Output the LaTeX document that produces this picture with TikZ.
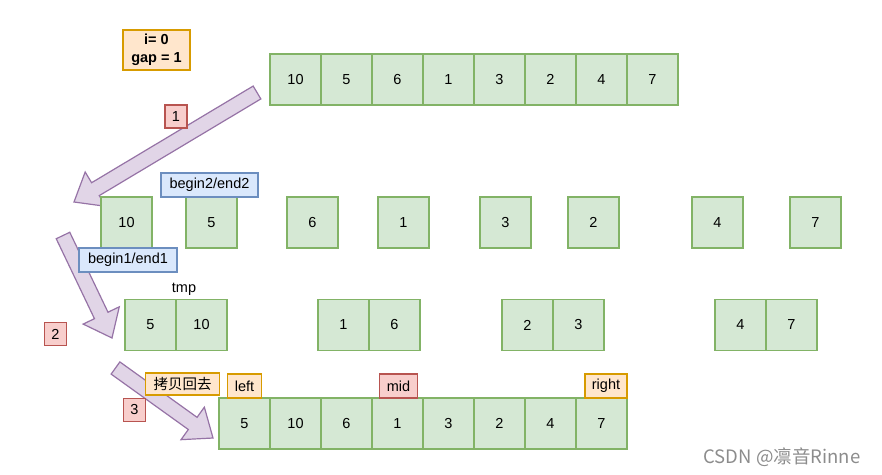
\documentclass[tikz,border=0pt]{standalone}
\usepackage{fontspec}
\setmainfont{Liberation Sans}
\newfontfamily\cjkfont{Noto Sans CJK SC}
\usepackage{xcolor}
\usepackage{tikz}
\usetikzlibrary{positioning, calc}

\definecolor{cellfill}{HTML}{D5E8D4}
\definecolor{cellline}{HTML}{82B366}
\definecolor{orfill}{HTML}{FFE6CC}
\definecolor{orline}{HTML}{D79B00}
\definecolor{blfill}{HTML}{DAE8FC}
\definecolor{blline}{HTML}{6C8EBF}
\definecolor{rdfill}{HTML}{F8CECC}
\definecolor{rdline}{HTML}{B85450}
\definecolor{arfill}{HTML}{E1D5E7}
\definecolor{arline}{HTML}{9673A6}
\definecolor{markgray}{HTML}{8C8C8C}

% block arrow from #1 (tail) to #2 (tip)
\newcommand{\fatarrow}[2]{%
  \draw[fatarrow] ($(#1)!7.5pt!90:(#2)$)
    -- ($(#2)!25pt!(#1)!7.5pt!-90:(#1)$)
    -- ($(#2)!25pt!(#1)!20pt!-90:(#1)$)
    -- (#2)
    -- ($(#2)!25pt!(#1)!20pt!90:(#1)$)
    -- ($(#2)!25pt!(#1)!7.5pt!90:(#1)$)
    -- ($(#1)!7.5pt!-90:(#2)$) -- cycle;}

\begin{document}
\begin{tikzpicture}[
    x=1pt, y=-1pt,
    every node/.style={font=\fontsize{14.5}{16}\selectfont},
    cell/.style={rectangle, draw=cellline, fill=cellfill, line width=1.3pt, minimum width=51pt, minimum height=51pt, inner sep=0pt, outer sep=0pt},
    tag/.style={rectangle, line width=1.3pt, minimum height=24pt, inner sep=0pt, outer sep=0pt},
    ortag/.style={tag, draw=orline, fill=orfill},
    bltag/.style={tag, draw=blline, fill=blfill},
    rdtag/.style={tag, draw=rdline, fill=rdfill, minimum width=22pt, minimum height=23pt},
    fatarrow/.style={draw=arline, fill=arfill, line width=1.2pt, line join=miter}
]
\useasboundingbox (0,0) rectangle (882,474);

\coordinate (a1s) at (257,92.5);
\coordinate (a1e) at (74,202);
\coordinate (a2s) at (63,235.5);
\coordinate (a2e) at (112,338);
\coordinate (a3s) at (115.5,368);
\coordinate (a3e) at (213,438);
\fatarrow{a1s}{a1e}
\fatarrow{a2s}{a2e}
\fatarrow{a3s}{a3e}

% start array
\node (t1) [cell] at (295.5,79.5) {10};
\node (t2) [cell, right=0pt of t1] {5};
\node (t3) [cell, right=0pt of t2] {6};
\node (t4) [cell, right=0pt of t3] {1};
\node (t5) [cell, right=0pt of t4] {3};
\node (t6) [cell, right=0pt of t5] {2};
\node (t7) [cell, right=0pt of t6] {4};
\node (t8) [cell, right=0pt of t7] {7};

% split into single elements
\node (s1) [cell] at (126.5,222.5) {10};
\node (s2) [cell, right=34pt of s1] {5};
\node (s3) [cell, right=50pt of s2] {6};
\node (s4) [cell, right=40pt of s3] {1};
\node (s5) [cell, right=51pt of s4] {3};
\node (s6) [cell, right=37pt of s5] {2};
\node (s7) [cell, right=73pt of s6] {4};
\node (s8) [cell, right=47pt of s7] {7};

% merged pairs
\node (m1) [cell] at (150.5,325) {5};
\node (m2) [cell, right=0pt of m1] {10};
\node (m3) [cell, right=91pt of m2] {1};
\node (m4) [cell, right=0pt of m3] {6};
\node (m5) [cell, right=82pt of m4] {2};
\node (m6) [cell, right=0pt of m5] {3};
\node (m7) [cell, right=111pt of m6] {4};
\node (m8) [cell, right=0pt of m7] {7};

% copied back
\node (b1) [cell] at (244.5,423.5) {5};
\node (b2) [cell, right=0pt of b1] {10};
\node (b3) [cell, right=0pt of b2] {6};
\node (b4) [cell, right=0pt of b3] {1};
\node (b5) [cell, right=0pt of b4] {3};
\node (b6) [cell, right=0pt of b5] {2};
\node (b7) [cell, right=0pt of b6] {4};
\node (b8) [cell, right=0pt of b7] {7};

% labels
\node (info) [ortag, minimum width=67pt, minimum height=40pt, align=center, font=\fontsize{14.5}{18.5}\selectfont\bfseries] at (156.5,50) {i= 0\\gap = 1};
\node (b2lab) [bltag, minimum width=97pt, above=0pt of s2, xshift=-2pt] {begin2/end2};
\node (b1lab) [bltag, minimum width=98pt, below=0pt of s1, xshift=1.5pt] {begin1/end1};
\node (tmp) [above=0pt of m1.north east, xshift=8pt] {tmp};
\node (lft) [ortag, minimum width=34pt, above=0pt of b1] {left};
\node (md) [rdtag, minimum width=38pt, minimum height=24pt, above=0pt of b4, xshift=1pt] {mid};
\node (rgt) [ortag, minimum width=42pt, above left=0pt of b8.north east] {right};
\node (copy) [ortag, minimum width=74pt, minimum height=22pt, left=8pt of lft, yshift=2pt, font=\fontsize{14.5}{16}\selectfont\cjkfont] {拷贝回去};

\node (n1) [rdtag] at (176,116.5) {1};
\node (n2) [rdtag] at (55.5,334) {2};
\node (n3) [rdtag] at (134.5,410) {3};

\node (mark) [text=markgray, font=\fontsize{18.5}{20}\selectfont\cjkfont] at (782,457) {CSDN @凛音Rinne};

\end{tikzpicture}
\end{document}
